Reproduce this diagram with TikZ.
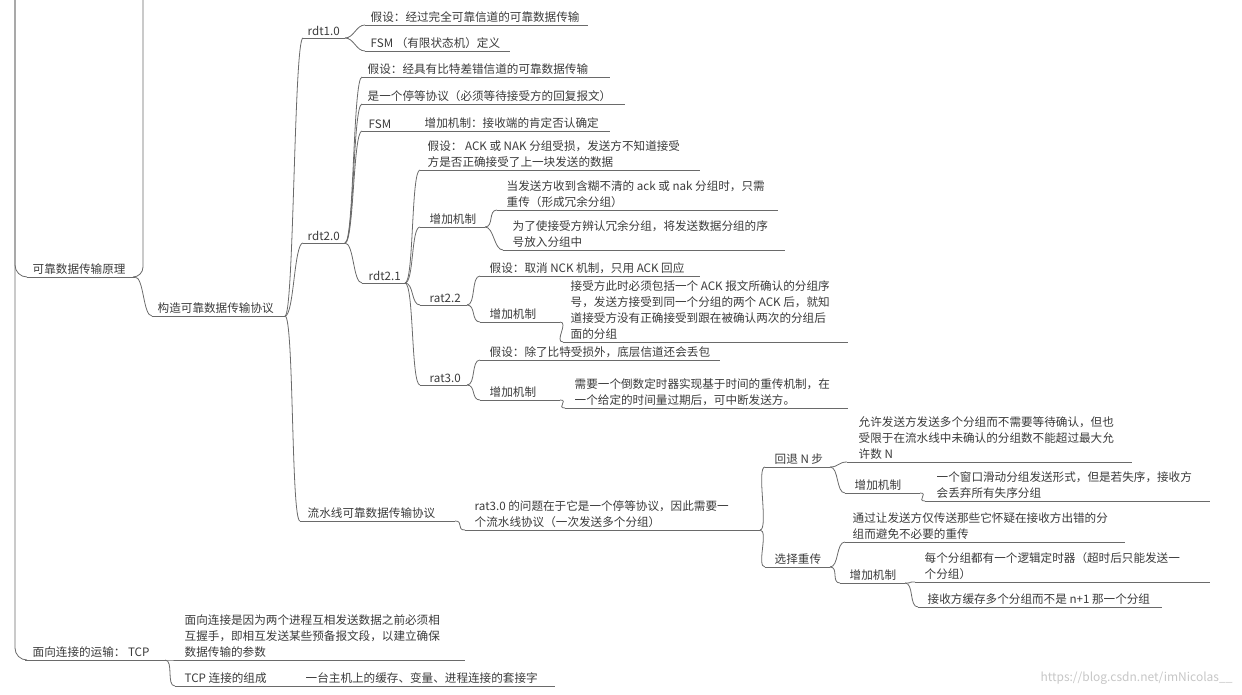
\documentclass[tikz,border=0pt]{standalone}
\usepackage{fontspec}
\newfontfamily\cjk{Noto Sans CJK SC}
\definecolor{txt}{HTML}{3A3A3A}
\definecolor{ln}{HTML}{6A6A6A}
\newcommand\mnode[6]{%
  \coordinate (#1L) at (#2,#4); \coordinate (#1R) at (#3,#4);
  \draw[ul] (#1L) -- (#1R);
  \node[lbl] (#1) at (#2+#5,#4-1) {#6};}
\newcommand\conn[2]{\draw[cn] (#1R) .. controls +(9,0) and +(-9,0) .. (#2L);}
\begin{document}
\begin{tikzpicture}[x=1pt,y=-1pt,
  ul/.style={draw=ln,line width=0.8pt},
  cn/.style={draw=ln,line width=0.8pt},
  lbl/.style={anchor=south west,inner sep=1.5pt,align=left,text=txt,
    font=\cjk\fontsize{11.6}{16}\selectfont}]
\useasboundingbox (0,0) rectangle (1242,695);
\clip (0,0) rectangle (1242,695);
\coordinate (root) at (15,-40);
\coordinate (up) at (143,-40);
\mnode{k}{27}{135}{277}{4}{可靠数据传输原理}
\mnode{gz}{152}{285}{316}{4}{构造可靠数据传输协议}
\mnode{rA}{303}{345}{38}{3}{rdt1.0}
\mnode{rAa}{365}{588}{25}{4}{假设：经过完全可靠信道的可靠数据传输}
\mnode{rAb}{365}{510}{51}{4}{FSM （有限状态机）定义}
\mnode{rB}{303}{345}{243}{3}{rdt2.0}
\mnode{rBa}{362}{610}{77}{4}{假设：经具有比特差错信道的可靠数据传输}
\mnode{rBb}{362}{625}{104}{4}{是一个停等协议（必须等待接受方的回复报文）}
\mnode{rBc}{362}{405}{131}{5}{FSM}
\mnode{rBd}{405}{610}{131}{18}{增加机制：接收端的肯定否认确定}
\mnode{rC}{362}{405}{283}{5}{rdt2.1}
\mnode{rCa}{420}{700}{170}{6}{假设： ACK 或 NAK 分组受损，发送方不知道接受\\方是否正确接受了上一块发送的数据}
\mnode{rCb}{420}{485}{227}{8}{增加机制}
\mnode{rCba}{497}{778}{210}{8}{当发送方收到含糊不清的 ack 或 nak 分组时，只需\\重传（形成冗余分组）}
\mnode{rCbb}{503}{785}{250}{8}{为了使接受方辨认冗余分组，将发送数据分组的序\\号放入分组中}
\mnode{rD}{420}{467}{305}{8}{rat2.2}
\mnode{rDa}{480}{700}{276}{8}{假设：取消 NCK 机制，只用 ACK 回应}
\mnode{rDb}{480}{560}{322}{8}{增加机制}
\mnode{rDba}{563}{848}{342}{6}{接受方此时必须包括一个 ACK 报文所确认的分组序\\号，发送方接受到同一个分组的两个 ACK 后，就知\\道接受方没有正确接受到跟在被确认两次的分组后\\面的分组}
\mnode{rE}{420}{467}{385}{8}{rat3.0}
\mnode{rEa}{480}{720}{360}{8}{假设：除了比特受损外，底层信道还会丢包}
\mnode{rEb}{480}{560}{400}{8}{增加机制}
\mnode{rEba}{565}{848}{408}{8}{需要一个倒数定时器实现基于时间的重传机制，在\\一个给定的时间量过期后，可中断发送方。}
\mnode{ls}{300}{455}{521}{6}{流水线可靠数据传输协议}
\mnode{lsa}{465}{760}{530}{8}{rat3.0 的问题在于它是一个停等协议，因此需要一\\个流水线协议（一次发送多个分组）}
\mnode{ht}{765}{830}{467}{8}{回退 N 步}
\mnode{hta}{847}{1132}{462}{10}{允许发送方发送多个分组而不需要等待确认，但也\\受限于在流水线中未确认的分组数不能超过最大允\\许数 N}
\mnode{htb}{845}{920}{493}{8}{增加机制}
\mnode{htba}{925}{1210}{501}{10}{一个窗口滑动分组发送形式，但是若失序，接收方\\会丢弃所有失序分组}
\mnode{xz}{765}{830}{567}{8}{选择重传}
\mnode{xza}{845}{1125}{542}{6}{通过让发送方仅传送那些它怀疑在接收方出错的分\\组而避免不必要的重传}
\mnode{xzb}{840}{905}{583}{8}{增加机制}
\mnode{xzba}{915}{1210}{582}{8}{每个分组都有一个逻辑定时器（超时后只能发送一\\个分组）}
\mnode{xzbb}{918}{1162}{607}{8}{接收方缓存多个分组而不是 n+1 那一个分组}
\mnode{tcp}{25}{165}{660}{6}{面向连接的运输： TCP}
\mnode{tcpa}{175}{465}{660}{8}{面向连接是因为两个进程互相发送数据之前必须相\\互握手，即相互发送某些预备报文段，以建立确保\\数据传输的参数}
\mnode{tcpb}{175}{300}{686}{8}{TCP 连接的组成}
\mnode{tcpba}{300}{555}{686}{4}{一台主机上的缓存、变量、进程连接的套接字}
\draw[cn,rounded corners=12pt] (root) |- (kL);
\draw[cn,rounded corners=12pt] (root) |- (tcpL);
\draw[cn,rounded corners=10pt] (kR) -| (up);
\conn{k}{gz}
\conn{gz}{rA}\conn{gz}{rB}\conn{gz}{ls}
\conn{rA}{rAa}\conn{rA}{rAb}
\conn{rB}{rBa}\conn{rB}{rBb}\conn{rB}{rBc}\conn{rB}{rC}
\conn{rC}{rCa}\conn{rC}{rCb}\conn{rC}{rD}\conn{rC}{rE}
\conn{rCb}{rCba}\conn{rCb}{rCbb}
\conn{rD}{rDa}\conn{rD}{rDb}\conn{rDb}{rDba}
\conn{rE}{rEa}\conn{rE}{rEb}\conn{rEb}{rEba}
\conn{ls}{lsa}\conn{lsa}{ht}\conn{lsa}{xz}
\conn{ht}{hta}\conn{ht}{htb}\conn{htb}{htba}
\conn{xz}{xza}\conn{xz}{xzb}\conn{xzb}{xzba}\conn{xzb}{xzbb}
\conn{tcp}{tcpa}\conn{tcp}{tcpb}
\node[anchor=south east,text=gray!45,font=\cjk\fontsize{12}{14}\selectfont] (wm) at (1236,688) {https://blog.csdn.net/imNicolas\_\_};
\end{tikzpicture}
\end{document}
